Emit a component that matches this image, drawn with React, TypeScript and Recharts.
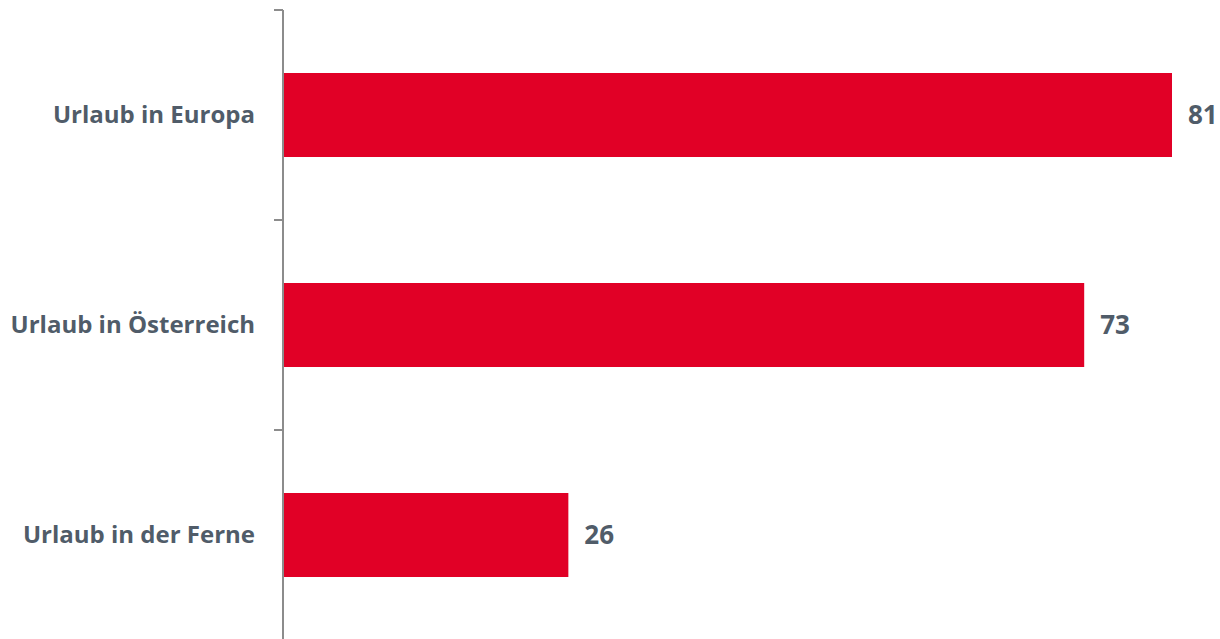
import { BarChart, Bar, XAxis, YAxis, LabelList } from 'recharts';

const categories = ['Urlaub in Europa', 'Urlaub in Österreich', 'Urlaub in der Ferne'];
const values = [81, 73, 26];

const data = categories.map((name, i) => ({ name, value: values[i] }));

const TEXT = '#505c69';
const FONT = '"Open Sans", sans-serif';
const H = 640;
const TOP = 10;

// category label plus a tick mark at the band boundary (not the band centre)
function CategoryTick(props: any) {
  const { x, y, payload } = props;
  const half = (H - TOP) / categories.length / 2;
  return (
    <g>
      <line x1={x - 1} x2={x + 8} y1={y - half} y2={y - half} stroke="#8c8c8c" strokeWidth={2} />
      {payload.index === categories.length - 1 && (
        <line x1={x - 1} x2={x + 8} y1={y + half} y2={y + half} stroke="#8c8c8c" strokeWidth={2} />
      )}
      <text x={x - 20} y={y} dy="0.35em" textAnchor="end" fill={TEXT} fontFamily={FONT} fontWeight={700} fontSize={24}>
        {payload.value}
      </text>
    </g>
  );
}

export default function App() {
  return (
    <div style={{ position: 'absolute', left: 0, top: 0, width: 1220, height: 639, overflow: 'hidden', background: '#fff' }}>
      <BarChart width={1220} height={H} data={data} layout="vertical"
        margin={{ top: TOP, right: 48, bottom: 0, left: 0 }} barCategoryGap="30%">
        <XAxis type="number" domain={[0, 81]} hide />
        <YAxis type="category" dataKey="name" width={283} tickLine={false}
          axisLine={{ stroke: '#8c8c8c', strokeWidth: 2 }} tick={<CategoryTick />} interval={0} />
        <Bar dataKey="value" fill="#e10026" isAnimationActive={false}>
          <LabelList dataKey="value" position="right" offset={16} fill={TEXT}
            style={{ fontFamily: FONT, fontWeight: 700, fontSize: 26 }} />
        </Bar>
      </BarChart>
    </div>
  );
}
